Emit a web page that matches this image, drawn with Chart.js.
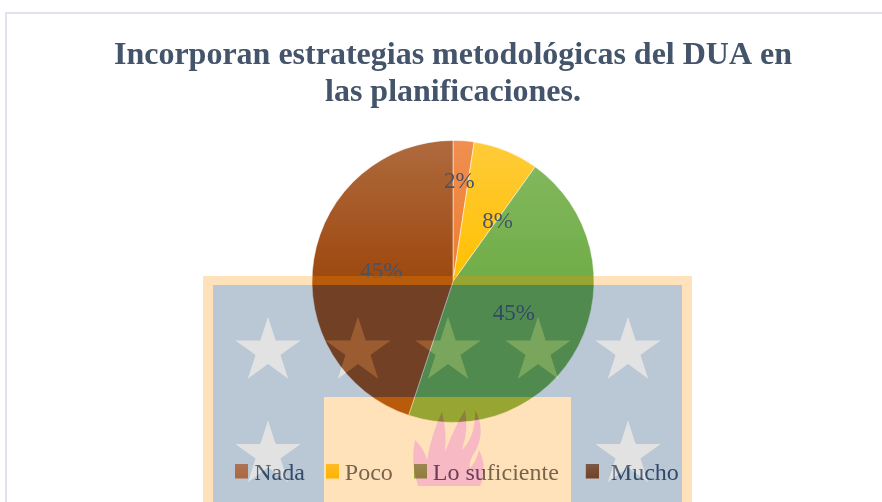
<!DOCTYPE html>
<html>
<head>
<meta charset="utf-8">
<title>Incorporan estrategias</title>
<script src="https://cdn.jsdelivr.net/npm/chart.js@4"></script>
<style>
  html, body { margin: 0; background: #fff; overflow: hidden; }
  #card { position: absolute; left: 5px; top: 12px; width: 900px; height: 520px; border: 2px solid #dfe4ec; }
  #chart { position: absolute; left: 0; top: 0; }
</style>
</head>
<body>
<div id="card"></div>
<canvas id="chart" width="882" height="502"></canvas>
<script>
// Data
const titleLines = ['Incorporan estrategias metodológicas del DUA en', 'las planificaciones.'];
const labels = ['Nada', 'Poco', 'Lo suficiente', '  Mucho'];
const values = [2.4, 7.5, 45.2, 44.9];

// Style
const baseColors = ['#ED7D31', '#FFC000', '#70AD47', '#9E480E'];
const topColors = ['#F08F50', '#FFCB3A', '#85BA62', '#AE6A3E'];
const textColor = '#44546A';
const serif = 'Liberation Serif';
const pieRadius = 141;
// label offset from the middle of each slice
const labelShift = [[1, -29], [18, 6], [-2, 1], [-2, 2]];
// last legend box sits closer to its text
const swatchShift = [0, 0, 0, 6];

// Background crest, drawn over the chart at low alpha
const drawStar = (ctx, cx, cy, r) => {
  ctx.beginPath();
  for (let i = 0; i < 10; i++) {
    const rad = i % 2 ? r * 0.382 : r;
    const a = -Math.PI / 2 + i * Math.PI / 5;
    ctx.lineTo(cx + rad * Math.cos(a), cy + rad * Math.sin(a));
  }
  ctx.closePath();
  ctx.fill();
};

const drawFlame = (ctx) => {
  ctx.beginPath();
  ctx.moveTo(418, 486);
  ctx.quadraticCurveTo(410, 462, 415, 440);
  ctx.quadraticCurveTo(424, 448, 427, 460);
  ctx.quadraticCurveTo(432, 432, 442, 412);
  ctx.quadraticCurveTo(447, 432, 445, 452);
  ctx.quadraticCurveTo(454, 428, 465, 410);
  ctx.quadraticCurveTo(469, 428, 462, 450);
  ctx.quadraticCurveTo(476, 436, 475, 410);
  ctx.quadraticCurveTo(486, 430, 476, 450);
  ctx.quadraticCurveTo(468, 462, 470, 468);
  ctx.quadraticCurveTo(476, 462, 479, 450);
  ctx.quadraticCurveTo(488, 468, 480, 486);
  ctx.closePath();
  ctx.fill();
};

const buildCrest = () => {
  const layer = document.createElement('canvas');
  layer.width = 882;
  layer.height = 502;
  const ctx = layer.getContext('2d');
  ctx.fillStyle = 'rgb(255,145,0)';
  ctx.fillRect(203, 276, 489, 226);
  ctx.fillStyle = 'rgb(0,48,100)';
  ctx.fillRect(213, 285, 469, 217);
  ctx.fillStyle = 'rgb(148,148,148)';
  [268, 358, 448, 538, 628].forEach((x) => drawStar(ctx, x, 351, 34.3));
  [268, 628].forEach((x) => drawStar(ctx, x, 454.5, 34.3));
  ctx.fillStyle = 'rgb(255,145,0)';
  ctx.fillRect(324, 397, 247, 105);
  ctx.fillStyle = 'rgb(225,0,37)';
  drawFlame(ctx);
  return layer;
};

const crest = buildCrest();

const crestPlugin = {
  id: 'crest',
  afterDraw: (chart) => {
    const ctx = chart.ctx;
    ctx.save();
    ctx.globalAlpha = 0.27;
    ctx.drawImage(crest, 0, 0);
    ctx.restore();
  }
};

const percentPlugin = {
  id: 'percent',
  afterDatasetsDraw: (chart) => {
    const ctx = chart.ctx;
    const total = values.reduce((a, b) => a + b, 0);
    ctx.save();
    ctx.font = '23px "' + serif + '"';
    ctx.fillStyle = textColor;
    ctx.textAlign = 'center';
    ctx.textBaseline = 'middle';
    chart.getDatasetMeta(0).data.forEach((arc, i) => {
      const p = arc.tooltipPosition();
      const text = Math.round(values[i] / total * 100) + '%';
      ctx.fillText(text, p.x + labelShift[i][0], p.y + labelShift[i][1]);
    });
    ctx.restore();
  }
};

// legend sits a little right of the pie in the reference
const legendShiftPlugin = {
  id: 'legendShift',
  afterLayout: (chart) => {
    chart.legend.left += 7;
    chart.legend.right += 7;
  }
};

const sliceFill = (context) => {
  const i = context.dataIndex;
  const area = context.chart.chartArea;
  if (!area) return baseColors[i];
  const mid = (area.top + area.bottom) / 2;
  const g = context.chart.ctx.createLinearGradient(0, mid - pieRadius, 0, mid);
  g.addColorStop(0, topColors[i]);
  g.addColorStop(1, baseColors[i]);
  return g;
};

// canvas is drawn centred on the legend item, so the box is placed off centre in it
const makeSwatch = (i) => {
  const shift = swatchShift[i];
  const c = document.createElement('canvas');
  c.width = 13 + shift * 2;
  c.height = 21;
  const ctx = c.getContext('2d');
  const g = ctx.createLinearGradient(0, 0, 0, 15);
  g.addColorStop(0, topColors[i]);
  g.addColorStop(1, baseColors[i]);
  ctx.fillStyle = g;
  ctx.fillRect(shift * 2, 0, 13, 15);
  return c;
};

new Chart(document.getElementById('chart'), {
  type: 'pie',
  data: {
    labels: labels,
    datasets: [{
      data: values,
      radius: pieRadius,
      backgroundColor: sliceFill,
      borderColor: 'rgba(255,255,255,0.5)',
      borderWidth: 1
    }]
  },
  plugins: [percentPlugin, crestPlugin, legendShiftPlugin],
  options: {
    responsive: false,
    animation: false,
    layout: { padding: { left: 24, top: 0, bottom: 6 } },
    plugins: {
      tooltip: { enabled: false },
      title: {
        display: true,
        text: titleLines,
        color: textColor,
        font: { family: serif, size: 32, weight: 'bold', lineHeight: 1.17 },
        padding: { top: 37, bottom: 16 }
      },
      legend: {
        position: 'bottom',
        labels: {
          color: textColor,
          font: { family: serif, size: 24 },
          usePointStyle: true,
          pointStyleWidth: 1,
          padding: 27,
          generateLabels: () => labels.map((text, i) => ({
            text: text,
            fontColor: textColor,
            pointStyle: makeSwatch(i),
            fillStyle: baseColors[i],
            strokeStyle: baseColors[i],
            lineWidth: 0,
            hidden: false,
            index: i
          }))
        }
      }
    }
  }
});
</script>
</body>
</html>
